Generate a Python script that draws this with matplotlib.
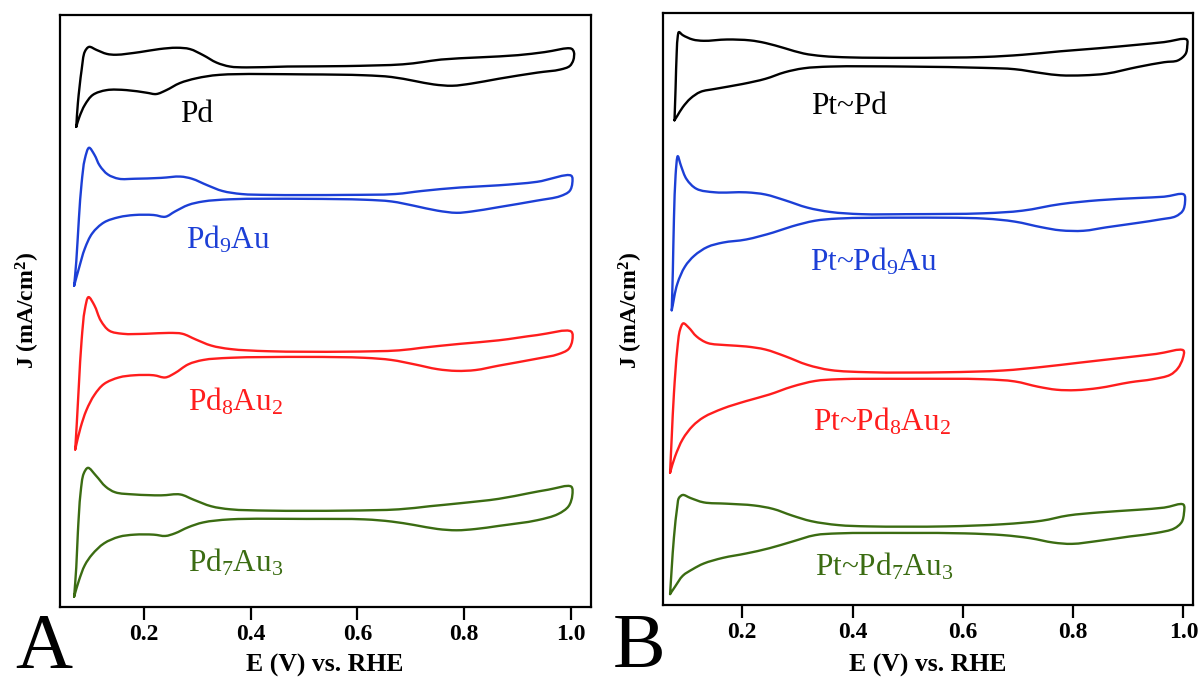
import numpy as np
import matplotlib
matplotlib.use("Agg")
import matplotlib.pyplot as plt
from matplotlib.path import Path
from matplotlib.patches import PathPatch

plt.rcParams['font.family'] = ['Liberation Serif', 'DejaVu Serif']
plt.rcParams['mathtext.fontset'] = 'custom'
plt.rcParams['mathtext.rm'] = 'Liberation Serif'
plt.rcParams['mathtext.bf'] = 'Liberation Serif:bold'
plt.rcParams['mathtext.default'] = 'regular'

# ---------------- Panel A: Pd and PdAu alloys (stacked CVs, a.u.) ----------------
pd_E = [0.073, 0.076, 0.083, 0.089, 0.097, 0.111, 0.130, 0.148, 0.192, 0.229, 0.261, 0.286,
        0.311, 0.336, 0.361, 0.392, 0.469, 0.577, 0.685, 0.721, 0.757, 0.829, 0.901, 0.951, 1.001,
        1.006, 1.005, 0.998, 0.980, 0.937, 0.865, 0.814, 0.778, 0.743, 0.707, 0.664, 0.613,
        0.505, 0.342, 0.298, 0.267, 0.242, 0.223, 0.205, 0.167, 0.130, 0.104, 0.089, 0.079, 0.073]
pd_J = [109.9, 115.3, 122.9, 127.1, 128.2, 127.5, 126.6, 126.4, 127.0, 127.7, 128.0, 127.7,
        126.3, 124.6, 123.7, 123.5, 123.7, 123.8, 124.2, 124.7, 125.3, 125.8, 126.3, 127.0, 127.8,
        127.0, 125.2, 123.8, 123.0, 122.3, 120.9, 119.8, 119.3, 119.6, 120.4, 121.3, 121.7,
        121.9, 121.8, 121.0, 119.9, 118.3, 117.4, 117.7, 118.3, 118.3, 117.2, 114.9, 112.2, 109.9]

pd9au_E = [0.069, 0.073, 0.078, 0.083, 0.089, 0.097, 0.107, 0.117, 0.132, 0.153, 0.182, 0.232,
           0.268, 0.290, 0.319, 0.347, 0.383, 0.434, 0.577, 0.671, 0.721, 0.793, 0.865, 0.937, 1.001,
           1.003, 0.998, 0.980, 0.937, 0.865, 0.814, 0.786, 0.750, 0.707, 0.664, 0.613, 0.505,
           0.362, 0.311, 0.283, 0.258, 0.240, 0.218, 0.182, 0.153, 0.125, 0.103, 0.089, 0.078, 0.069]
pd9au_J = [73.5, 79.0, 89.0, 97.0, 102.5, 105.1, 103.5, 101.0, 99.0, 98.0, 98.0, 98.2,
           98.5, 98.0, 96.5, 95.2, 94.5, 94.3, 94.3, 94.5, 95.2, 96.0, 96.5, 97.3, 98.7,
           97.0, 95.2, 94.0, 93.0, 91.5, 90.5, 90.2, 90.7, 91.8, 92.8, 93.2, 93.4,
           93.3, 92.8, 92.0, 90.5, 89.3, 89.7, 89.7, 89.2, 88.0, 85.5, 82.0, 77.5, 73.5]

pd8au2_E = [0.071, 0.074, 0.078, 0.083, 0.089, 0.096, 0.107, 0.119, 0.135, 0.160, 0.204, 0.247,
            0.272, 0.297, 0.326, 0.362, 0.434, 0.577, 0.678, 0.721, 0.793, 0.865, 0.937, 1.001,
            1.003, 0.996, 0.976, 0.937, 0.865, 0.822, 0.786, 0.750, 0.707, 0.664, 0.613, 0.505,
            0.362, 0.311, 0.283, 0.258, 0.240, 0.218, 0.182, 0.153, 0.125, 0.107, 0.092, 0.081, 0.071]
pd8au2_J = [36.0, 42.0, 51.0, 61.0, 68.0, 70.9, 69.0, 65.5, 63.2, 62.5, 62.5, 62.7,
            62.5, 61.2, 59.8, 59.0, 58.5, 58.4, 58.7, 59.3, 60.2, 61.0, 62.2, 63.0,
            61.0, 59.0, 57.8, 56.8, 55.2, 54.2, 54.0, 54.4, 55.5, 56.5, 57.0, 57.2,
            57.0, 56.5, 55.5, 53.5, 52.5, 53.0, 53.0, 52.5, 51.0, 48.5, 45.0, 41.0, 36.0]

pd7au3_E = [0.069, 0.073, 0.076, 0.081, 0.087, 0.095, 0.110, 0.128, 0.146, 0.182, 0.232, 0.268,
            0.293, 0.326, 0.362, 0.434, 0.577, 0.678, 0.735, 0.793, 0.865, 0.922, 0.958, 1.001,
            1.003, 0.996, 0.976, 0.937, 0.865, 0.822, 0.786, 0.750, 0.707, 0.664, 0.613, 0.505,
            0.362, 0.311, 0.283, 0.258, 0.240, 0.218, 0.182, 0.153, 0.125, 0.103, 0.089, 0.078, 0.069]
pd7au3_J = [2.3, 9.0, 17.0, 26.0, 30.5, 31.8, 30.0, 27.5, 26.2, 25.7, 25.5, 25.7,
            24.5, 23.0, 22.3, 22.0, 22.0, 22.3, 23.0, 23.7, 24.7, 26.0, 26.8, 27.5,
            25.5, 23.0, 21.2, 19.8, 18.5, 17.8, 17.5, 17.8, 18.7, 19.5, 20.0, 20.1,
            20.0, 19.3, 18.2, 16.8, 16.2, 16.5, 16.5, 16.0, 14.5, 12.0, 9.5, 6.0, 2.3]

# ---------------- Panel B: Pt-decorated Pd and PdAu ----------------
ptpd_E = [0.077, 0.079, 0.081, 0.083, 0.085, 0.092, 0.110, 0.130, 0.172, 0.214, 0.242, 0.277,
          0.311, 0.346, 0.395, 0.499, 0.638, 0.708, 0.777, 0.847, 0.917, 0.965, 1.006,
          1.007, 1.004, 0.990, 0.965, 0.917, 0.861, 0.819, 0.777, 0.743, 0.694, 0.638, 0.499,
          0.360, 0.311, 0.277, 0.242, 0.200, 0.151, 0.124, 0.106, 0.092, 0.082, 0.077]
ptpd_J = [111.0, 118.5, 126.5, 130.3, 131.2, 130.5, 129.5, 129.2, 129.5, 129.3, 128.7, 127.5,
          126.3, 125.7, 125.4, 125.3, 125.5, 126.0, 126.8, 127.5, 128.3, 128.9, 129.5,
          128.0, 126.2, 124.7, 124.3, 123.2, 121.7, 121.3, 121.3, 121.8, 122.7, 123.0, 123.3,
          123.3, 122.9, 122.0, 120.5, 119.3, 118.2, 117.5, 116.0, 114.0, 112.0, 111.0]

ptpd9au_E = [0.072, 0.074, 0.076, 0.079, 0.082, 0.083, 0.089, 0.099, 0.117, 0.151, 0.207, 0.242,
             0.277, 0.318, 0.360, 0.416, 0.499, 0.638, 0.708, 0.777, 0.847, 0.917, 0.965, 1.001,
             1.003, 0.999, 0.986, 0.958, 0.917, 0.861, 0.819, 0.777, 0.743, 0.694, 0.638, 0.499,
             0.374, 0.332, 0.290, 0.256, 0.207, 0.165, 0.137, 0.113, 0.096, 0.082, 0.072]
ptpd9au_J = [67.5, 76.5, 88.5, 98.5, 102.5, 102.8, 100.5, 97.5, 95.3, 94.5, 94.5, 94.0,
             92.7, 91.0, 90.0, 89.5, 89.5, 89.7, 90.3, 91.8, 92.7, 93.2, 93.5, 94.0,
             92.3, 90.3, 89.0, 88.3, 87.5, 86.5, 85.7, 85.8, 86.5, 87.8, 88.5, 88.7,
             88.5, 88.0, 86.7, 85.3, 83.7, 83.0, 82.0, 80.0, 77.5, 73.5, 67.5]

ptpd8au2_E = [0.069, 0.072, 0.076, 0.082, 0.087, 0.093, 0.103, 0.117, 0.137, 0.172, 0.207, 0.242,
              0.277, 0.318, 0.360, 0.430, 0.569, 0.673, 0.743, 0.812, 0.882, 0.951, 1.000,
              0.999, 0.990, 0.976, 0.944, 0.903, 0.847, 0.805, 0.770, 0.736, 0.694, 0.638, 0.499,
              0.374, 0.332, 0.290, 0.249, 0.207, 0.165, 0.130, 0.110, 0.092, 0.078, 0.069]
ptpd8au2_J = [30.3, 38.5, 48.5, 58.5, 63.0, 64.5, 63.5, 61.5, 60.0, 59.5, 59.2, 58.5,
              57.0, 55.0, 53.8, 53.3, 53.3, 53.7, 54.5, 55.5, 56.5, 57.5, 58.3,
              56.5, 54.2, 52.7, 51.7, 51.0, 49.7, 49.2, 49.3, 50.0, 51.2, 51.7, 51.8,
              51.7, 51.3, 50.0, 48.2, 46.7, 45.0, 43.0, 41.0, 38.0, 34.0, 30.3]

ptpd7au3_E = [0.069, 0.072, 0.076, 0.082, 0.085, 0.092, 0.106, 0.130, 0.172, 0.221, 0.256, 0.290,
              0.325, 0.374, 0.430, 0.569, 0.673, 0.743, 0.791, 0.847, 0.917, 0.965, 1.000,
              1.001, 0.997, 0.983, 0.951, 0.903, 0.847, 0.798, 0.764, 0.722, 0.673, 0.604, 0.499,
              0.374, 0.332, 0.290, 0.249, 0.207, 0.165, 0.130, 0.110, 0.092, 0.078, 0.069]
ptpd7au3_J = [2.5, 8.5, 15.5, 22.5, 24.5, 25.2, 24.5, 23.5, 23.2, 22.8, 22.0, 20.5,
              19.2, 18.3, 18.0, 18.0, 18.5, 19.3, 20.5, 21.2, 21.8, 22.3, 23.0,
              21.0, 19.0, 17.5, 16.5, 15.7, 14.7, 14.0, 14.3, 15.3, 16.0, 16.4, 16.5,
              16.4, 16.0, 14.5, 13.0, 11.8, 10.8, 9.5, 8.2, 6.7, 4.2, 2.5]

colors = ['#000000', '#1c3fd6', '#ff1d1d', '#3b6c12']
labels_A = ['Pd', r'Pd$_9$Au', r'Pd$_8$Au$_2$', r'Pd$_7$Au$_3$']
labels_B = ['Pt~Pd', r'Pt~Pd$_9$Au', r'Pt~Pd$_8$Au$_2$', r'Pt~Pd$_7$Au$_3$']
tick_values = [0.2, 0.4, 0.6, 0.8, 1.0]
tick_labels = ['0.2', '0.4', '0.6', '0.8', '1.0']

curves_A = [(pd_E, pd_J), (pd9au_E, pd9au_J), (pd8au2_E, pd8au2_J), (pd7au3_E, pd7au3_J)]
curves_B = [(ptpd_E, ptpd_J), (ptpd9au_E, ptpd9au_J), (ptpd8au2_E, ptpd8au2_J),
            (ptpd7au3_E, ptpd7au3_J)]
label_pos_A = [(0.268, 111.0), (0.279, 82.0), (0.283, 45.0), (0.283, 8.0)]
label_pos_B = [(0.325, 112.5), (0.322, 76.5), (0.329, 40.0), (0.332, 6.7)]

W, H = 1202, 685
fig = plt.figure(figsize=(W / 100, H / 100), dpi=100)
axA = fig.add_axes([60 / W, (H - 606.7) / H, 530.7 / W, 591.7 / H])
axB = fig.add_axes([662.7 / W, (H - 605) / H, 530.6 / W, 591.7 / H])


def smooth_path(ax, E, J, alpha=0.5):
    """Centripetal Catmull-Rom curve through the measured points, as cubic Beziers."""
    disp = ax.transData.transform(np.column_stack([E, J]))
    n = len(disp)
    verts = [disp[0]]
    codes = [Path.MOVETO]
    for i in range(n - 1):
        p1, p2 = disp[i], disp[i + 1]
        p0 = disp[i - 1] if i > 0 else p1
        p3 = disp[i + 2] if i + 2 < n else p2
        d1 = np.linalg.norm(p1 - p0) ** alpha
        d2 = np.linalg.norm(p2 - p1) ** alpha
        d3 = np.linalg.norm(p3 - p2) ** alpha
        if d2 < 1e-9:
            continue
        if d1 < 1e-9:
            b1 = p1 + (p2 - p1) / 3
        else:
            b1 = (d1 ** 2 * p2 - d2 ** 2 * p0 + (2 * d1 ** 2 + 3 * d1 * d2 + d2 ** 2) * p1) / \
                 (3 * d1 * (d1 + d2))
        if d3 < 1e-9:
            b2 = p2 - (p2 - p1) / 3
        else:
            b2 = (d3 ** 2 * p1 - d2 ** 2 * p3 + (2 * d3 ** 2 + 3 * d3 * d2 + d2 ** 2) * p2) / \
                 (3 * d3 * (d3 + d2))
        verts += [b1, b2, p2]
        codes += [Path.CURVE4] * 3
    data_verts = ax.transData.inverted().transform(np.array(verts))
    return Path(data_verts, codes)


def draw_panel(ax, curves, labels, label_pos, xlim):
    ax.set_xlim(*xlim)
    ax.set_ylim(0, 135.5)
    for (E, J), c, lab, (lx, ly) in zip(curves, colors, labels, label_pos):
        ax.add_patch(PathPatch(smooth_path(ax, E, J), facecolor='none', edgecolor=c,
                               lw=1.7, joinstyle='round', capstyle='round'))
        ax.text(lx, ly, lab, color=c, fontsize=22.5, ha='left', va='baseline')
    ax.set_yticks([])
    ax.set_xticks(tick_values)
    ax.set_xticklabels(tick_labels, fontsize=17, fontweight='bold')
    ax.tick_params(axis='x', direction='out', length=9.5, width=1.6, pad=3)
    for s in ax.spines.values():
        s.set_linewidth(1.6)


draw_panel(axA, curves_A, labels_A, label_pos_A, (0.0425, 1.0375))
draw_panel(axB, curves_B, labels_B, label_pos_B, (0.0556, 1.018))

# axis titles
for xc in (325 / W, 928 / W):
    fig.text(xc, (H - 665) / H, 'E (V) vs. RHE', fontsize=18.5, fontweight='bold',
             ha='center', va='center')
for xc in (28 / W, 631 / W):
    fig.text(xc, (H - 311) / H, r'J (mA/cm$^2$)', fontsize=17, fontweight='bold',
             rotation=90, ha='center', va='center')

# panel letters
fig.text(15 / W, 1 / H, 'A', fontsize=57, ha='left', va='bottom')
fig.text(613 / W, 1 / H, 'B', fontsize=57, ha='left', va='bottom')

fig.savefig('out.png', dpi=100)
